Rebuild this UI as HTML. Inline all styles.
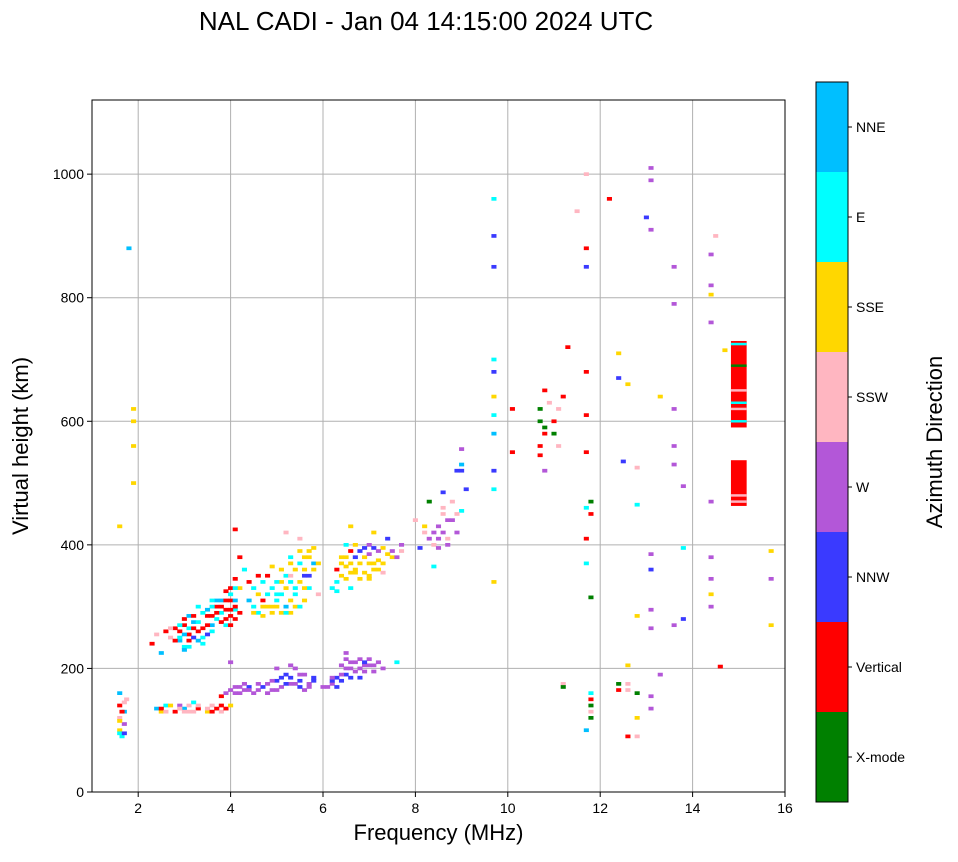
<!DOCTYPE html>
<html><head><meta charset="utf-8"><style>
body{margin:0;background:#fff;font-family:"Liberation Sans",sans-serif}
svg text{font-family:"Liberation Sans",sans-serif}
</style></head><body>
<svg id="c" width="958" height="857" xmlns="http://www.w3.org/2000/svg"></svg>
<script>
const xTicks=[2,4,6,8,10,12,14,16];
const yTicks=[0,200,400,600,800,1000];
const kindNames=["X-mode","Vertical","NNW","W","SSW","SSE","E","NNE"];
const kindColors=["#008000","#ff0000","#3a3aff","#b357d8","#ffb6c1","#ffd700","#00ffff","#00bfff"];
const freq=[1.6,1.6,1.65,1.6,1.7,1.7,1.6,1.75,2.4,2.5,2.6,2.8,2.9,3.0,3.1,3.2,3.3,3.5,3.6,3.7,3.8,3.9,4.0,3.8,3.9,4.1,4.2,4.3,4.4,4.0,
4.6,4.7,4.8,4.9,5.0,5.1,5.2,5.3,5.4,5.5,5.6,5.7,5.8,5.0,5.3,5.6,
6.1,6.2,6.3,6.4,6.5,6.6,6.7,6.8,6.9,7.0,7.1,7.2,6.5,6.8,7.3,7.6,6.5,
2.3,2.4,2.5,2.6,2.7,2.8,2.9,3.0,3.0,3.1,3.2,3.3,3.4,3.5,3.6,3.7,3.8,3.9,4.0,4.1,4.0,3.6,3.8,4.1,4.2,4.1,4.2,4.3,4.4,4.5,4.6,4.7,4.8,4.9,5.0,5.1,5.2,5.3,5.4,5.5,5.6,5.7,5.8,5.9,5.2,5.5,5.7,4.9,5.3,
6.2,6.3,6.4,6.5,6.6,6.7,6.8,6.9,7.0,7.1,7.2,7.3,7.4,7.5,7.7,6.6,7.1,6.5,7.0,
8.0,8.1,8.2,8.3,8.4,8.4,8.5,8.6,8.6,8.7,8.7,8.8,8.9,9.0,9.1,9.0,8.9,9.0,
9.7,9.7,9.7,9.7,9.7,9.7,9.7,9.7,9.7,9.7,9.7,
10.1,10.1,10.7,10.7,10.8,10.7,10.8,10.9,10.8,10.7,10.8,11.0,11.1,11.2,11.3,11.1,11.0,
11.7,11.7,11.7,11.7,11.7,11.7,11.7,11.8,11.8,11.7,11.7,11.8,11.7,11.5,
11.2,11.2,11.8,11.8,11.8,11.8,11.8,
12.2,12.4,12.4,12.5,12.6,12.8,12.8,12.8,12.6,12.4,12.4,12.6,12.8,12.6,12.8,12.6,12.8,13.0,
13.1,13.1,13.1,13.1,13.1,13.1,13.1,13.1,13.1,13.3,13.3,13.6,13.6,13.6,13.6,13.6,13.8,13.8,13.8,13.6,
14.4,14.4,14.4,14.4,14.4,14.4,14.4,14.4,14.4,14.5,14.7,14.6,
15.7,15.7,15.7,1.8,1.9,1.9,1.9,1.9,1.6,
2.9,2.9,3.0,3.0,3.1,3.1,3.1,3.2,3.2,3.3,3.3,3.4,3.4,3.5,3.5,3.6,3.6,3.7,3.7,3.7,3.8,3.8,3.9,3.9,3.9,4.0,4.0,4.0,4.1,4.1,4.1,3.3,3.4,3.5,3.6,3.9,4.0,4.1,4.2,3.2,2.9,2.8,2.7,3.0,3.1,
4.4,4.5,4.6,4.6,4.7,4.7,4.8,4.8,4.9,4.9,5.0,5.0,5.1,5.1,5.1,5.2,5.2,5.2,5.3,5.3,5.3,5.4,5.4,5.4,5.5,5.5,5.5,5.6,5.6,5.6,5.7,5.7,5.8,5.8,5.6,5.9,5.3,4.5,4.7,5.0,
6.3,6.4,6.4,6.5,6.5,6.6,6.6,6.7,6.7,6.8,6.8,6.9,6.9,7.0,7.0,7.1,7.1,7.2,7.2,7.3,7.3,7.4,7.5,7.6,7.7,6.7,7.0,6.6,6.3,
4.0,4.1,4.2,4.3,4.5,4.6,4.8,4.9,5.0,5.1,5.2,5.3,5.4,5.5,5.5,5.7,5.8,4.4,6.0,6.2,6.3,6.4,6.5,6.6,6.7,6.8,6.9,7.0,6.4,6.6,6.9,7.1,6.2,
2.5,2.6,2.9,3.0,3.2,3.3,3.5,3.6,3.8,2.7,3.1,1.6,1.7,1.65,1.6,1.7,
8.3,8.4,8.5,8.5,8.6,8.7,8.8,8.9,9.0,8.6,8.2];
const height=[100,120,90,140,130,110,160,150,135,130,140,130,140,135,130,145,135,130,140,135,130,135,140,155,160,160,170,165,170,210,
165,170,175,165,180,170,190,175,200,180,190,175,180,200,205,165,
170,175,185,180,190,200,210,200,205,215,195,210,215,185,200,210,225,
240,255,225,260,250,265,245,270,235,255,275,260,250,285,270,300,290,280,310,295,330,300,310,345,380,425,330,360,310,330,350,300,320,365,310,340,300,370,330,390,350,380,370,320,420,410,330,300,290,
330,360,380,400,370,355,390,380,400,370,360,395,410,380,390,430,420,365,350,
440,395,430,470,420,365,410,450,485,440,400,470,520,530,490,555,420,455,
490,520,580,610,640,680,700,850,900,960,340,
620,550,620,600,580,560,590,630,650,545,520,600,620,640,720,560,580,
1000,880,850,680,610,550,460,450,470,410,370,315,100,940,
175,170,160,150,140,120,130,
960,710,670,535,660,525,465,285,205,175,165,165,160,90,120,175,90,930,
1010,990,910,385,360,295,265,155,135,640,190,850,790,620,560,530,495,395,280,270,
870,820,805,760,470,380,345,320,300,900,715,203,
390,345,270,880,620,600,560,500,430,
250,260,255,280,245,265,285,250,265,275,245,265,290,270,295,285,260,280,290,310,275,300,295,310,270,285,295,320,280,300,310,300,240,255,310,325,270,330,290,285,270,245,265,230,235,
340,300,320,290,340,310,300,350,330,290,340,300,320,290,360,330,350,290,310,340,380,300,360,320,370,340,300,360,380,330,350,390,360,395,310,370,350,290,285,320,
340,350,370,380,345,355,390,360,380,370,345,355,395,370,385,360,395,375,390,370,355,385,390,380,400,400,345,330,325,
165,170,160,175,160,175,160,180,165,185,175,185,175,170,190,170,185,165,170,180,170,190,200,210,195,215,195,205,205,185,210,205,185,
135,130,135,130,130,140,135,130,140,140,140,95,95,130,115,145,
410,400,430,395,420,410,440,450,520,460,420];
const kind=[5,4,6,1,7,3,7,4,7,5,6,1,3,7,4,6,1,5,4,1,4,1,5,1,3,3,3,3,2,3,
3,2,3,3,2,3,2,3,3,2,3,3,2,3,3,3,
3,3,2,2,2,3,3,3,3,3,3,3,3,2,3,6,3,
1,4,7,1,4,1,7,1,6,1,7,1,6,1,7,1,6,1,1,6,1,6,7,1,1,1,5,6,7,6,1,5,6,5,6,5,7,5,6,5,2,5,7,4,4,4,6,5,5,
6,1,5,6,5,5,2,5,3,5,5,5,2,5,4,5,5,5,5,
4,2,5,0,3,6,3,4,2,3,3,4,2,7,2,3,3,6,
6,2,7,6,5,2,6,2,2,6,5,
1,1,0,0,1,1,0,4,1,1,3,1,4,1,1,4,0,
4,1,2,1,1,1,6,1,0,1,6,0,7,4,
4,0,6,1,0,0,4,
1,5,2,2,5,4,6,5,5,0,1,4,0,1,5,4,4,2,
3,3,3,3,2,3,3,3,3,5,3,3,3,3,3,3,3,6,2,3,
3,3,5,3,3,3,3,5,3,4,5,1,
5,3,5,7,5,5,5,5,5,
6,1,7,1,1,6,7,2,1,6,7,1,6,1,7,1,6,6,1,7,1,1,1,1,6,1,1,6,1,1,7,6,6,2,6,1,1,6,1,1,6,1,4,7,6,
1,6,5,6,6,1,5,1,6,5,6,5,6,5,5,5,6,6,5,6,6,5,5,6,6,5,6,5,5,5,2,5,5,5,5,5,4,5,5,6,
6,5,5,5,5,5,1,5,2,5,5,5,2,5,3,5,2,5,3,5,4,5,3,3,3,5,5,6,6,
3,3,3,3,3,3,3,3,3,2,2,2,3,2,3,3,2,3,3,2,2,3,3,3,3,3,3,3,3,2,2,3,3,
1,4,4,4,4,4,4,1,1,5,4,6,2,1,5,4,
3,4,3,3,3,4,3,4,2,4,4];
const stripeFreq=[15,15,15,15,15,15,15,15];
const stripeHeight=[600,620,630,650,690,725,480,470];
const stripeKind=[6,4,6,4,0,6,4,4];
const barFreq=[15,15];
const barLow=[463,590];
const barHigh=[537,730];
const barKind=[1,1];

const NS="http://www.w3.org/2000/svg";
const svg=document.getElementById('c');
const L=92,R=785,T=100,B=792,X0=1,X1=16,Y0=0,Y1=1120;
const sx=v=>L+(v-X0)/(X1-X0)*(R-L);
const sy=v=>B-(v-Y0)/(Y1-Y0)*(B-T);
function mk(tag,a,p){const e=document.createElementNS(NS,tag);for(const k in a)e.setAttribute(k,a[k]);(p||svg).appendChild(e);return e;}
xTicks.forEach(t=>{const l=mk('line',{x1:sx(t),x2:sx(t),y1:T,y2:B,stroke:'#b0b0b0','stroke-width':1});

});
yTicks.forEach(t=>{const l=mk('line',{x1:L,x2:R,y1:sy(t),y2:sy(t),stroke:'#b0b0b0','stroke-width':1});

});
const cw=0.11,ch=6;
for(let i=0;i<freq.length;i++){
 const r=mk('rect',{x:sx(freq[i]-cw/2),y:sy(height[i]+ch/2),width:sx(cw)-sx(0),height:sy(0)-sy(ch),fill:kindColors[kind[i]]});
 
 
}
for(let i=0;i<barFreq.length;i++){
 const r=mk('rect',{x:sx(barFreq[i]-0.17),y:sy(barHigh[i]),width:sx(0.34)-sx(0),height:sy(barLow[i])-sy(barHigh[i]),fill:kindColors[barKind[i]]});
 
 
}
for(let i=0;i<stripeFreq.length;i++){
 const r=mk('rect',{x:sx(stripeFreq[i]-0.17),y:sy(stripeHeight[i]+2),width:sx(0.34)-sx(0),height:sy(0)-sy(4),fill:kindColors[stripeKind[i]]});
 
 
}
const fr=mk('rect',{x:L,y:T,width:R-L,height:B-T,fill:'none',stroke:'#000','stroke-width':1});


xTicks.forEach(t=>{mk('line',{x1:sx(t),x2:sx(t),y1:B,y2:B+5,stroke:'#000'});
const tx=mk('text',{x:sx(t),y:B+21,'text-anchor':'middle','font-size':14});tx.textContent=t;

});
yTicks.forEach(t=>{mk('line',{x1:L-5,x2:L,y1:sy(t),y2:sy(t),stroke:'#000'});
const tx=mk('text',{x:L-8,y:sy(t)+5,'text-anchor':'end','font-size':14});tx.textContent=t;

});
const cbL=816,cbT=82,cbH=720,cbW=32,seg=cbH/kindNames.length;
for(let i=0;i<kindNames.length;i++){
 const y0=cbT+cbH-(i+1)*seg;
 const r=mk('rect',{x:cbL,y:y0,width:cbW,height:seg,fill:kindColors[i]});
 
 
 mk('line',{x1:cbL+cbW,x2:cbL+cbW+4,y1:y0+seg/2,y2:y0+seg/2,stroke:'#000'});
 const tx=mk('text',{x:cbL+cbW+8,y:y0+seg/2+5,'font-size':14});tx.textContent=kindNames[i];
 
 
}
const cbf=mk('rect',{x:cbL,y:cbT,width:cbW,height:cbH,fill:'none',stroke:'#000'});


</script>
<div style="position:absolute;left:0;top:6px;width:852px;text-align:center;font-size:26px">NAL CADI - Jan 04 14:15:00 2024 UTC</div>
<div style="position:absolute;left:92px;top:820px;width:693px;text-align:center;font-size:22px">Frequency (MHz)</div>
<div style="position:absolute;left:21px;top:446px;transform:translate(-50%,-50%) rotate(-90deg);white-space:nowrap;font-size:22px">Virtual height (km)</div>
<div style="position:absolute;left:935px;top:442px;transform:translate(-50%,-50%) rotate(-90deg);white-space:nowrap;font-size:22px">Azimuth Direction</div>
</body></html>
